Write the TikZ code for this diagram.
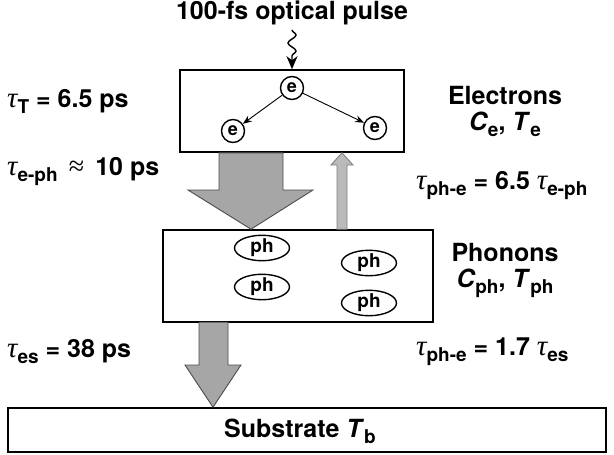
\documentclass[tikz,border=0pt]{standalone}
\usepackage{fontspec}
\setmainfont{TeX Gyre Heros}
\newfontfamily\greekfont{Liberation Serif}
\usetikzlibrary{shapes.geometric,arrows.meta,decorations.pathmorphing}
\newcommand{\lsub}[1]{\raisebox{-6pt}{\fontsize{19}{19}\selectfont\bfseries #1}}
\newcommand{\tu}{{\greekfont\itshape\mdseries\fontsize{29}{29}\selectfont τ}}
\newcommand{\approxsym}{{\greekfont\mdseries\fontsize{28}{28}\selectfont ≈}}
\begin{document}
\begin{tikzpicture}[x=1pt,y=-1pt,
  lbl/.style={font=\fontsize{25}{28}\selectfont\bfseries, inner sep=0pt},
  boxn/.style={draw, line width=1.6pt, inner sep=0pt},
  enode/.style={draw, circle, line width=1.4pt, minimum size=23pt, inner sep=0pt, font=\fontsize{18}{18}\selectfont\bfseries},
  phnode/.style={draw, ellipse, line width=1.4pt, minimum width=55pt, minimum height=22pt, inner sep=0pt, font=\fontsize{19}{19}\selectfont\bfseries},
  bigarrow/.style={fill=black!35, draw=black!70, line width=0.9pt, line join=miter},
  thinarrow/.style={fill=black!27, draw=black!50, line width=0.9pt}]
\useasboundingbox (0,0) rectangle (614,455);

% boxes
\node[boxn, minimum width=224pt, minimum height=82pt] (el) at (292,111) {};
\node[boxn, minimum width=270pt, minimum height=92pt] (ph) at (298,276) {};
\node[boxn, minimum width=598pt, minimum height=44pt] (sub) at (307,430) {};
\node[lbl] (subtxt) at (300,431) {Substrate \textit{T}\lsub{b}};

% title and wavy arrow
\node[lbl] (title) at (292,13) {100-fs optical pulse};
\draw[line width=1.4pt, decorate, decoration={snake, amplitude=4pt, segment length=16pt, post length=12pt}, -{Stealth[length=13pt, width=11pt, inset=4pt]}]
  (292,30) -- (el.north);

% electrons
\node[enode] (e0) at (292,88) {e};
\node[enode] (e1) at (233,131) {e};
\node[enode] (e2) at (375,128) {e};
\draw[line width=0.9pt, -{Stealth[length=9pt, width=7pt, inset=3pt]}] (e0) -- (e1);
\draw[line width=0.9pt, -{Stealth[length=9pt, width=7pt, inset=3pt]}] (e0) -- (e2);

% phonons
\node[phnode] (p1) at (262,248) {ph};
\node[phnode] (p2) at (262,287) {ph};
\node[phnode] (p3) at (369,263) {ph};
\node[phnode] (p4) at (369,303) {ph};

% big arrow electrons -> phonons
\draw[bigarrow] (219,152.8) -- (219,190) -- (188,190) -- (251,229.2) -- (313,190) -- (283,190) -- (283,152.8) -- cycle;
% thin arrow phonons -> electrons
\draw[thinarrow] (337,229.2) -- (337,165) -- (331,165) -- (342,152.8) -- (353,165) -- (347,165) -- (347,229.2) -- cycle;
% bottom arrow phonons -> substrate
\draw[bigarrow] (199,322.2) -- (199,365) -- (185,365) -- (213,407.2) -- (241,365) -- (228,365) -- (228,322.2) -- cycle;

% labels
\node[lbl, anchor=west] (tT) at (7,101) {\tu\lsub{T} = 6.5 ps};
\node[lbl] (elab) at (505,95) {Electrons};
\node[lbl] (ecap) at (505,124) {\textit{C}\lsub{e}, \textit{T}\lsub{e}};
\node[lbl, anchor=west] (teph) at (7,172) {\tu\lsub{e-ph}\, \approxsym\, 10 ps};
\node[lbl, anchor=west] (tphe) at (416,186) {\tu\lsub{ph-e} = 6.5 \tu\lsub{e-ph}};
\node[lbl] (plab) at (505,252) {Phonons};
\node[lbl] (pcap) at (505,283) {\textit{C}\lsub{ph}, \textit{T}\lsub{ph}};
\node[lbl, anchor=west] (tes) at (7,352) {\tu\lsub{es} = 38 ps};
\node[lbl, anchor=west] (tphe2) at (416,352) {\tu\lsub{ph-e} = 1.7 \tu\lsub{es}};
\end{tikzpicture}
\end{document}
